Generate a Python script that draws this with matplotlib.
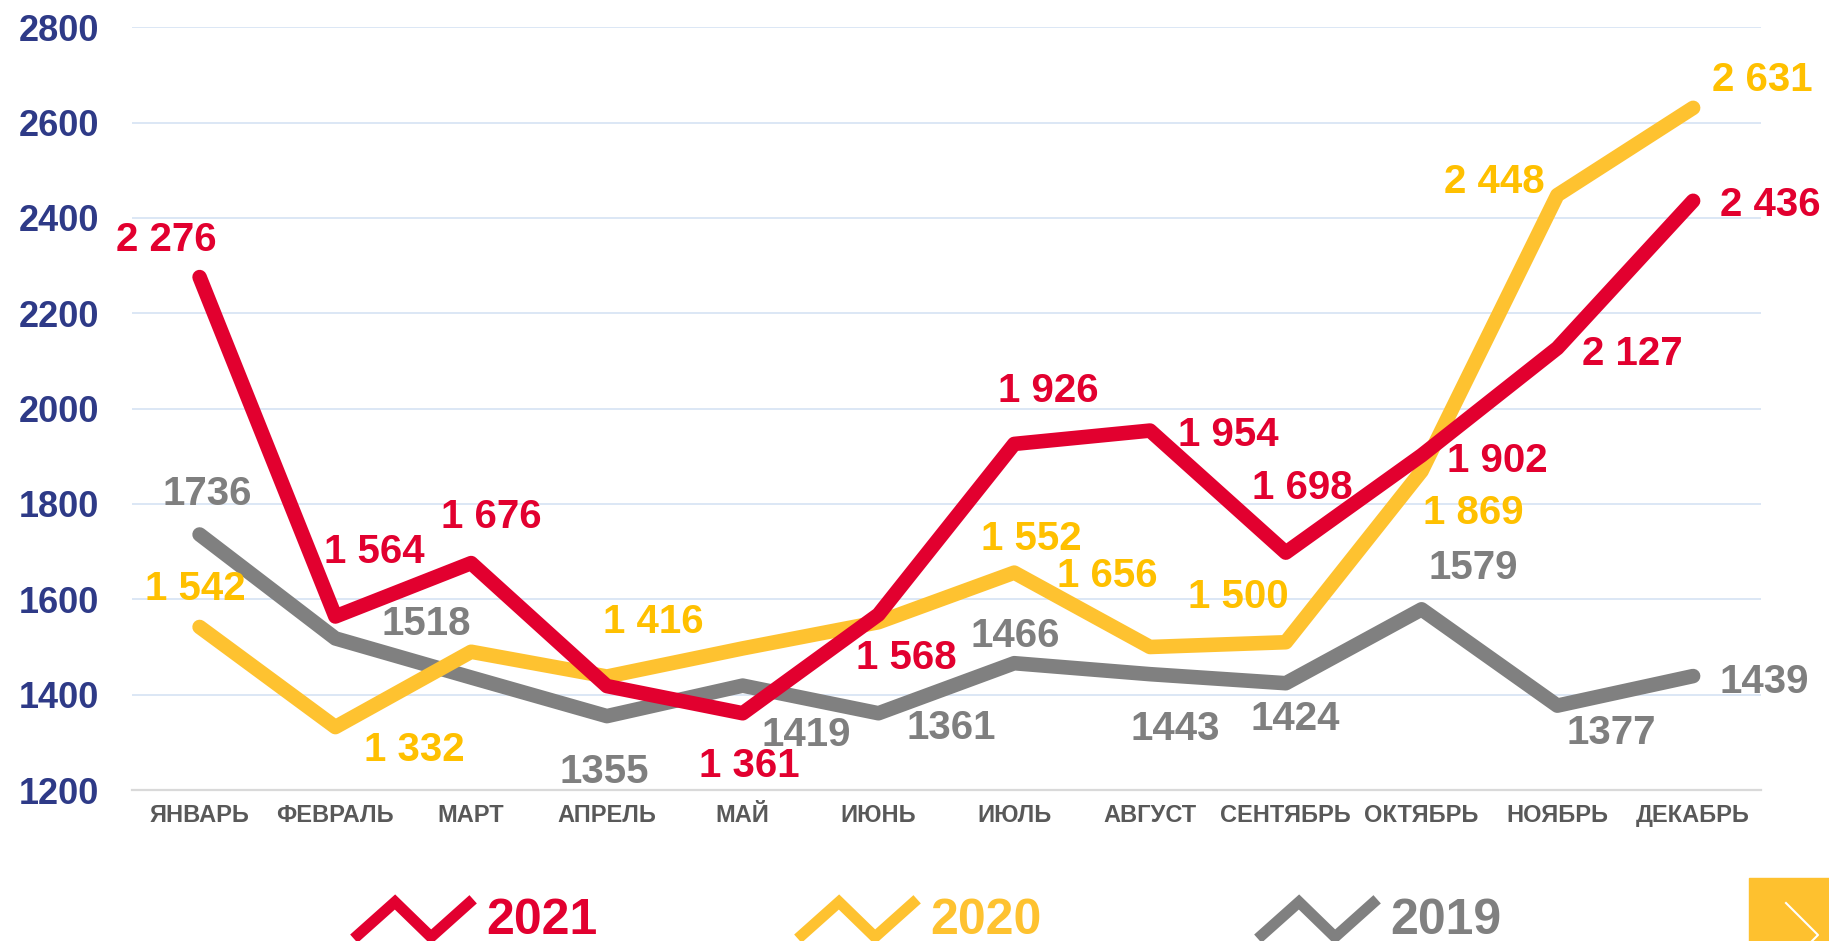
import matplotlib as mpl
mpl.use('Agg')
import matplotlib.pyplot as plt
from matplotlib.lines import Line2D
from matplotlib.patches import Rectangle

plt.rcParams['font.family'] = ['Liberation Sans', 'DejaVu Sans']
plt.rcParams['font.weight'] = 'bold'

# ---- data ----
months = ['ЯНВАРЬ', 'ФЕВРАЛЬ', 'МАРТ', 'АПРЕЛЬ', 'МАЙ', 'ИЮНЬ', 'ИЮЛЬ',
          'АВГУСТ', 'СЕНТЯБРЬ', 'ОКТЯБРЬ', 'НОЯБРЬ', 'ДЕКАБРЬ']
v2021 = [2276, 1564, 1676, 1418, 1361, 1568, 1926, 1954, 1698, 1902, 2127, 2436]
v2020 = [1542, 1332, 1490, 1438, 1497, 1552, 1656, 1500, 1510, 1869, 2448, 2631]
v2019 = [1736, 1518, 1436, 1355, 1419, 1361, 1466, 1443, 1424, 1579, 1377, 1439]

# data labels: (month index, text)
lab2021 = [(0, '2 276'), (1, '1 564'), (2, '1 676'), (4, '1 361'), (5, '1 568'),
           (6, '1 926'), (7, '1 954'), (8, '1 698'), (9, '1 902'), (10, '2 127'),
           (11, '2 436')]
lab2020 = [(0, '1 542'), (1, '1 332'), (3, '1 416'), (5, '1 552'), (6, '1 656'),
           (7, '1 500'), (9, '1 869'), (10, '2 448'), (11, '2 631')]
lab2019 = [(0, '1736'), (1, '1518'), (3, '1355'), (4, '1419'), (5, '1361'),
           (6, '1466'), (7, '1443'), (8, '1424'), (9, '1579'), (10, '1377'),
           (11, '1439')]

# label offsets from the point (pixels, label centre)
off2021 = [(-33, 41), (39, 68), (20, 50), (7, -49), (28, -40), (34, 56),
           (78, -1), (17, 68), (76, -2), (75, -2), (77, -1)]
off2020 = [(-4, 41), (79, -20), (46, 58), (153, 87), (93, 0), (88, 53),
           (52, -38), (-63, 17), (69, 31)]
off2019 = [(8, 44), (91, 18), (-3, -52), (64, -46), (73, -11), (1, 31),
           (25, -51), (9, -32), (52, 45), (54, -24), (71, -3)]

RED, YEL, GRY = '#E2002F', '#FEC230', '#808080'
YEL_TXT = '#FFC000'
W, H = 1829, 941

fig = plt.figure(figsize=(W / 100, H / 100), dpi=100)
ax = fig.add_axes([131.7 / W, 1 - 790 / H, (1761 - 131.7) / W, (790 - 27.3) / H])

x = list(range(len(months)))
for vals, col, z in [(v2019, GRY, 2), (v2020, YEL, 3), (v2021, RED, 4)]:
    ax.plot(x, vals, color=col, lw=10.5, solid_capstyle='round',
            solid_joinstyle='round', zorder=z)

fs_lab = 29
em_px = fs_lab * 100 / 72
for vals, labs, offs, col in [(v2021, lab2021, off2021, RED),
                              (v2020, lab2020, off2020, YEL_TXT),
                              (v2019, lab2019, off2019, '#7F7F7F')]:
    for (i, txt), (dx, dy) in zip(labs, offs):
        ax.annotate(txt, (i, vals[i]), xytext=(dx, dy - 0.358 * em_px),
                    textcoords='offset pixels', ha='center', va='baseline',
                    fontsize=fs_lab, fontweight='bold', color=col, zorder=6,
                    annotation_clip=False)

ax.set_xlim(-0.5, 11.5)
ax.set_ylim(1200, 2800)
ax.set_yticks(range(1200, 2801, 200))
ax.set_xticks(x)
ax.set_xticklabels(months, fontsize=17, fontweight='bold', color='#595959')
ax.tick_params(axis='y', length=0, pad=23.5, labelsize=26, labelcolor='#2E3A87')
ax.tick_params(axis='x', length=0, pad=10)
ax.grid(axis='y', color='#D6E3F3', lw=1.2, zorder=0)
for s in ('top', 'right', 'left'):
    ax.spines[s].set_visible(False)
ax.spines['bottom'].set_color('#D9D9D9')
ax.spines['bottom'].set_linewidth(1.6)
ax.set_axisbelow(True)

# legend drawn by hand
def legend_item(x0, col, txt):
    xs = [x0, x0 + 37, x0 + 73, x0 + 111]
    ys = [935, 902, 937, 903]
    fig.add_artist(Line2D([v / W for v in xs], [1 - v / H for v in ys],
                          transform=fig.transFigure, color=col, lw=8,
                          solid_joinstyle='miter'))
    fig.text((x0 + 128) / W, 1 - 934 / H, txt, fontsize=36, fontweight='bold',
             color=col, ha='left', va='baseline')

legend_item(358, RED, '2021')
legend_item(802, YEL, '2020')
legend_item(1262, GRY, '2019')

# corner button
fig.add_artist(Rectangle((1749 / W, 0), 80 / W, (941 - 878) / H,
                         transform=fig.transFigure, color='#FEC12F'))
fig.add_artist(Line2D([1786 / W, 1818 / W, 1786 / W],
                      [1 - 903 / H, 1 - 935 / H, 1 - 967 / H],
                      transform=fig.transFigure, color='white', lw=1.5))

fig.savefig('out.png', dpi=100)
